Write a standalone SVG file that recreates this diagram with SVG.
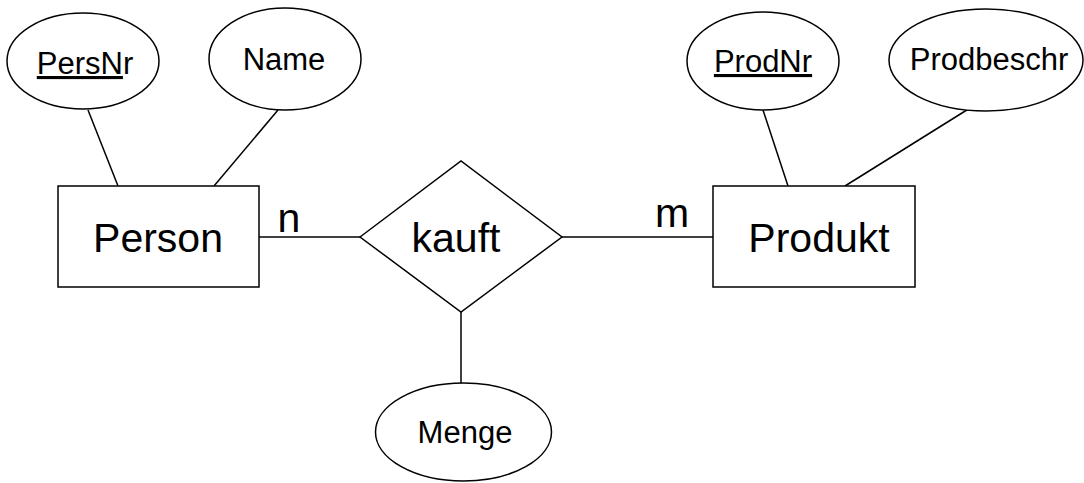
<svg xmlns="http://www.w3.org/2000/svg" width="1084" height="483" viewBox="0 0 1084 483">
<style>
.s{fill:#fff;stroke:#000;stroke-width:1.5}
.c line{stroke:#000;stroke-width:1.5}
text{font-family:"Liberation Sans",Arial,sans-serif;fill:#000;text-anchor:middle}
.big{font-size:41px}
.att{font-size:31px}
.u{text-decoration:underline}
</style>
<g class="c" id="connectors">
<line x1="88" y1="110" x2="118" y2="186"/>
<line x1="278" y1="110" x2="214" y2="186"/>
<line x1="763" y1="110" x2="788" y2="186"/>
<line x1="970" y1="108" x2="845" y2="186"/>
<line x1="259" y1="237" x2="360" y2="237"/>
<line x1="562" y1="237" x2="713" y2="237"/>
<line x1="461" y1="312" x2="461" y2="383"/>
</g>
<text class="big" x="289" y="232">n</text>
<text class="big" x="672" y="227">m</text>
<g id="persnr"><ellipse class="s" cx="83" cy="61" rx="76" ry="48"/><text class="att" x="85" y="74"><tspan class="u">PersN</tspan>r</text></g>
<g id="name"><ellipse class="s" cx="285" cy="59" rx="76" ry="51"/><text class="att" x="284" y="70">Name</text></g>
<g id="person"><rect class="s" x="58" y="186" width="201" height="101"/><text class="big" x="158" y="252">Person</text></g>
<g id="kauft"><polygon class="s" points="360,237 461,161 562,237 461,312"/><text class="big" x="456" y="252">kauft</text></g>
<g id="produkt"><rect class="s" x="713" y="186" width="202" height="101"/><text class="big" x="819" y="252">Produkt</text></g>
<g id="prodnr"><ellipse class="s" cx="763" cy="61" rx="76" ry="49"/><text class="att u" x="763" y="72">ProdNr</text></g>
<g id="prodbeschr"><ellipse class="s" cx="986" cy="60" rx="97" ry="51"/><text class="att" x="989" y="70">Prodbeschr</text></g>
<g id="menge"><ellipse class="s" cx="463.5" cy="432" rx="88" ry="49"/><text class="att" x="465" y="443">Menge</text></g>
</svg>
